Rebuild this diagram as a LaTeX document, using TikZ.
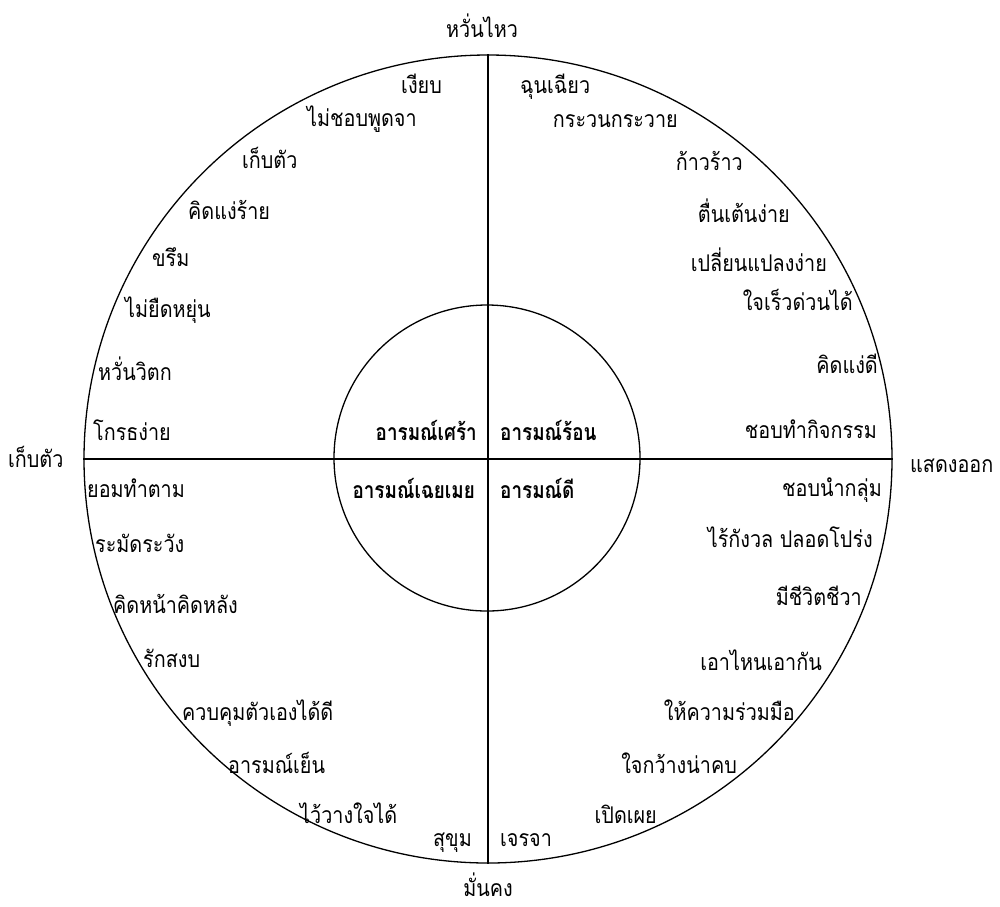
\documentclass[tikz,border=0pt]{standalone}
\usepackage{fontspec}
\newfontfamily\thai[Script=Thai, FakeStretch=0.86]{Loma}
\newfontfamily\thaib[Script=Thai, FakeStretch=0.82]{Loma Bold}
\tikzset{
  ring/.style={circle, draw, line width=1.3pt, inner sep=0pt},
  axis/.style={line width=1.3pt},
  lbl/.style={font=\thai\fontsize{23}{26}\selectfont, inner sep=0pt},
  core/.style={font=\thaib\fontsize{23}{26}\selectfont, inner sep=0pt},
  lw/.style={lbl, anchor=base west},
  le/.style={lbl, anchor=base east},
}
\begin{document}
\begin{tikzpicture}[x=1pt, y=-1pt]
\useasboundingbox (0,0) rectangle (1000,906);
\node[ring, minimum size=808pt] (outer) at (488,459) {};
\node[ring, minimum size=306pt] (inner) at (487,458) {};
\draw[axis] (outer.north) -- (outer.south);
\draw[axis] (outer.west) -- (outer.east);
% axis labels
\node[lbl, anchor=base] (top) at (482,37) {หวั่นไหว};
\node[lbl, anchor=base, text depth=0pt] (bot) at (488,896) {มั่นคง};
\node[lw] (lft) at (8,467) {เก็บตัว};
\node[lw] (rgt) at (910,472) {แสดงออก};
% core
\node[core, anchor=base east] (c1) at (477,440) {อารมณ์เศร้า};
\node[core, anchor=base west] (c2) at (500,440) {อารมณ์ร้อน};
\node[core, anchor=base east] (c3) at (475,498) {อารมณ์เฉยเมย};
\node[core, anchor=base west] (c4) at (500,498) {อารมณ์ดี};
% upper left
\node[le] (a1) at (442,93) {เงียบ};
\node[lw] (a2) at (307,126) {ไม่ชอบพูดจา};
\node[lw] (a3) at (242,168) {เก็บตัว};
\node[lw] (a4) at (188,219) {คิดแง่ร้าย};
\node[lw] (a5) at (152,266) {ขรึม};
\node[lw] (a6) at (125,317) {ไม่ยืดหยุ่น};
\node[lw] (a7) at (98,380) {หวั่นวิตก};
\node[lw] (a8) at (93,440) {โกรธง่าย};
% upper right
\node[lw] (b1) at (520,93) {ฉุนเฉียว};
\node[le] (b2) at (678,127) {กระวนกระวาย};
\node[le] (b3) at (743,170) {ก้าวร้าว};
\node[le] (b4) at (790,222) {ตื่นเต้นง่าย};
\node[le] (b5) at (827,271) {เปลี่ยนแปลงง่าย};
\node[le] (b6) at (853,310) {ใจเร็วด่วนได้};
\node[le] (b7) at (878,373) {คิดแง่ดี};
\node[le] (b8) at (877,438) {ชอบทำกิจกรรม};
% lower left
\node[lw] (d1) at (87,497) {ยอมทำตาม};
\node[lw] (d2) at (95,552) {ระมัดระวัง};
\node[lw] (d3) at (113,613) {คิดหน้าคิดหลัง};
\node[lw] (d4) at (143,667) {รักสงบ};
\node[lw] (d5) at (182,720) {ควบคุมตัวเองได้ดี};
\node[lw] (d6) at (228,773) {อารมณ์เย็น};
\node[lw] (d7) at (300,823) {ไว้วางใจได้};
\node[le] (d8) at (472,846) {สุขุม};
% lower right
\node[le] (e1) at (882,496) {ชอบนำกลุ่ม};
\node[le] (e2) at (873,547) {ไร้กังวล ปลอดโปร่ง};
\node[le] (e3) at (862,605) {มีชีวิตชีวา};
\node[le] (e4) at (822,670) {เอาไหนเอากัน};
\node[le] (e5) at (795,720) {ให้ความร่วมมือ};
\node[le] (e6) at (737,773) {ใจกว้างน่าคบ};
\node[le] (e7) at (657,823) {เปิดเผย};
\node[lw] (e8) at (500,846) {เจรจา};
\end{tikzpicture}
\end{document}
